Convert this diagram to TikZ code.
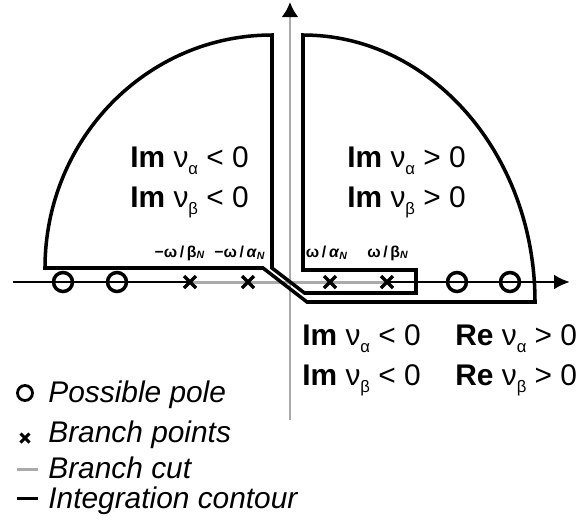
\documentclass[tikz,border=0pt]{standalone}
\usepackage{fontspec}
\setmainfont{Liberation Sans}
\usepackage{xcolor}
\usetikzlibrary{arrows, arrows.meta}
\usetikzlibrary{math}
\definecolor{mygray}{RGB}{170, 170, 170}
\newcommand{\lsub}[1]{\raisebox{-4.5pt}{\fontsize{9.5}{10}\selectfont #1}}

\begin{document}
\begin{tikzpicture}[scale =1]
\tikzmath{
\yl=0.28;
\yr=-0.4;
\yq=0.24;
}
\useasboundingbox (-5.8,-4.8) rectangle (5.78,5.64);

 %vaxis
 \draw[-{Latex[length=0.3cm,width=0.34cm,color=black]}, line width=1.7pt, color=mygray] (0,-2.76) -- (0,5.6);

 %haxis
 \draw[-{Latex[length=0.32cm,width=0.3cm]}, line width=1.6pt] (-5.54,0) -- (5.6,0);

 \coordinate (B1) at (-2,0);
 \coordinate (B2) at (-0.84,0);
 \coordinate (B3) at (0.8,0);
 \coordinate (B4) at (1.94,0);

 %branch cut
 \draw[line width=1.7pt, color=mygray] (B1) -- (B4);

 %contour
 \draw[line width=2pt, line join=miter] (0.26,4.94) -- (0.26,\yq) -- (2.52,\yq) -- (2.52,-0.22) -- (0.29,-0.22) -- (-0.36,\yl) -- (-0.36,4.94)
   arc[start angle=90, end angle=180, x radius=4.54, y radius=4.66] -- (-0.54,\yl) -- (0.34,\yr) -- (4.9,\yr)
   arc[start angle=0, end angle=90, x radius=4.64, y radius=5.34] -- cycle;

 %poles
 \coordinate (P1) at (-4.54,0);
 \coordinate (P2) at (-3.46,0);
 \coordinate (P3) at (3.34,0);
 \coordinate (P4) at (4.4,0);
 \draw[line width=2pt] (P1) circle (0.19);
 \draw[line width=2pt] (P2) circle (0.19);
 \draw[line width=2pt] (P3) circle (0.19);
 \draw[line width=2pt] (P4) circle (0.19);

 %branch points
 \draw[line width=2pt] (B1) ++(-0.12,-0.12) -- ++(0.24,0.24) (B1) ++(-0.12,0.12) -- ++(0.24,-0.24);
 \draw[line width=2pt] (B2) ++(-0.12,-0.12) -- ++(0.24,0.24) (B2) ++(-0.12,0.12) -- ++(0.24,-0.24);
 \draw[line width=2pt] (B3) ++(-0.12,-0.12) -- ++(0.24,0.24) (B3) ++(-0.12,0.12) -- ++(0.24,-0.24);
 \draw[line width=2pt] (B4) ++(-0.12,-0.12) -- ++(0.24,0.24) (B4) ++(-0.12,0.12) -- ++(0.24,-0.24);

 \node[font=\bfseries\fontsize{9}{10}\selectfont] (LB1) at (-2.2,0.58) {−ω\,/\,β\textsubscript{\textit{N}}};
 \node[font=\bfseries\fontsize{9}{10}\selectfont] (LB2) at (-1.0,0.58) {−ω\,/\,\textit{α}\textsubscript{\textit{N}}};
 \node[font=\bfseries\fontsize{9}{10}\selectfont] (LB3) at (0.74,0.58) {ω\,/\,\textit{α}\textsubscript{\textit{N}}};
 \node[font=\bfseries\fontsize{9}{10}\selectfont] (LB4) at (1.96,0.58) {ω\,/\,β\textsubscript{\textit{N}}};

 %regions
 \node[anchor=base west, font=\fontsize{17}{20}\selectfont, inner sep=0] (LA) at (-3.2,2.3) {\textbf{Im} ν\lsub{α} < 0};
 \node[anchor=base west, font=\fontsize{17}{20}\selectfont, inner sep=0] (LB) at (-3.2,1.5) {\textbf{Im} ν\lsub{β} < 0};
 \node[anchor=base west, font=\fontsize{17}{20}\selectfont, inner sep=0] (RA) at (1.14,2.3) {\textbf{Im} ν\lsub{α} > 0};
 \node[anchor=base west, font=\fontsize{17}{20}\selectfont, inner sep=0] (RB) at (1.14,1.5) {\textbf{Im} ν\lsub{β} > 0};
 \node[anchor=base west, font=\fontsize{17}{20}\selectfont, inner sep=0] (DA) at (0.24,-1.26) {\textbf{Im} ν\lsub{α} < 0};
 \node[anchor=base west, font=\fontsize{17}{20}\selectfont, inner sep=0] (DB) at (0.24,-2.06) {\textbf{Im} ν\lsub{β} < 0};
 \node[anchor=base west, font=\fontsize{17}{20}\selectfont, inner sep=0] (EA) at (3.3,-1.26) {\textbf{Re} ν\lsub{α} > 0};
 \node[anchor=base west, font=\fontsize{17}{20}\selectfont, inner sep=0] (EB) at (3.3,-2.06) {\textbf{Re} ν\lsub{β} > 0};

 %legend
 \coordinate (K1) at (-5.3,-2.22);
 \coordinate (K2) at (-5.3,-3.12);
 \coordinate (K3) at (-5.25,-3.74);
 \coordinate (K4) at (-5.25,-4.32);
 \draw[line width=1.6pt] (K1) circle (0.15);
 \draw[line width=1.7pt] (K2) ++(-0.09,-0.09) -- ++(0.18,0.18) (K2) ++(-0.09,0.09) -- ++(0.18,-0.18);
 \draw[line width=1.7pt, color=mygray] (K3) ++(-0.21,0) -- ++(0.42,0);
 \draw[line width=1.7pt] (K4) ++(-0.21,0) -- ++(0.42,0);
 \node[anchor=base west, font=\itshape\fontsize{17}{20}\selectfont, inner sep=0] (T1) at (-4.84,-2.4) {Possible pole};
 \node[anchor=base west, font=\itshape\fontsize{17}{20}\selectfont, inner sep=0] (T2) at (-4.84,-3.2) {Branch points};
 \node[anchor=base west, font=\itshape\fontsize{17}{20}\selectfont, inner sep=0] (T3) at (-4.84,-3.92) {Branch cut};
 \node[anchor=base west, font=\itshape\fontsize{17}{20}\selectfont, inner sep=0] (T4) at (-4.84,-4.52) {Integration contour};

\end{tikzpicture}
\end{document}
